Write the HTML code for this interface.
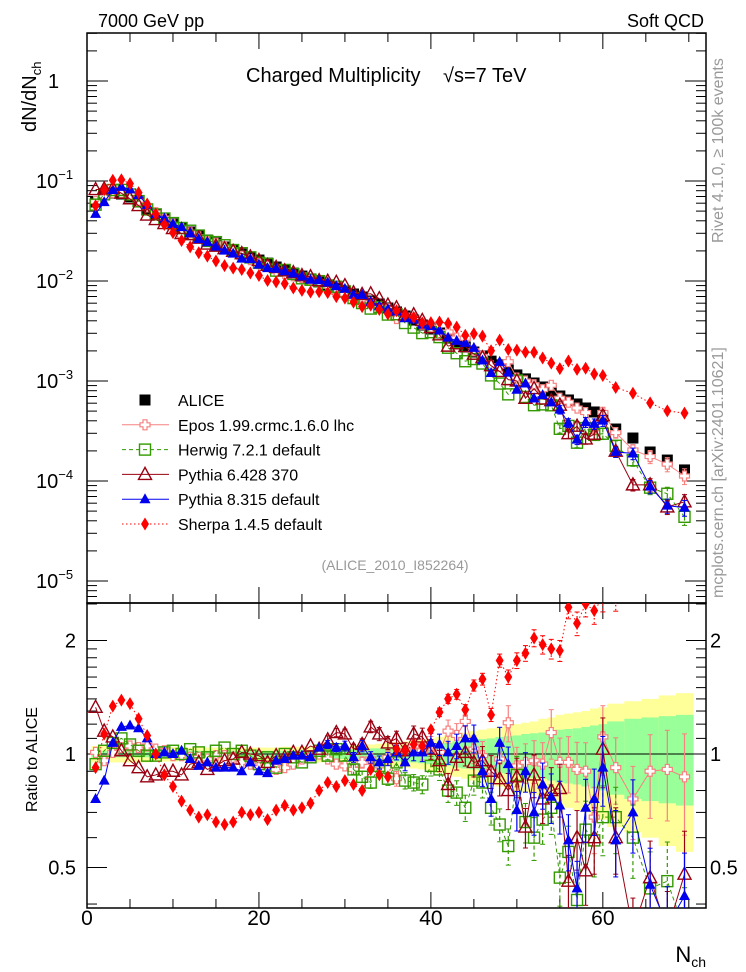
<!DOCTYPE html>
<html><head><meta charset="utf-8"><style>
html,body{margin:0;padding:0;background:#fff}
svg{display:block;font-family:"Liberation Sans",Arial,sans-serif}
</style></head><body>
<svg id="chart" width="746" height="972" viewBox="0 0 746 972" xmlns="http://www.w3.org/2000/svg">
<defs>
<clipPath id="clipMain"><rect x="87" y="33" width="619" height="570"/></clipPath>
<clipPath id="clipRatio"><rect x="87" y="603" width="619" height="305"/></clipPath>
</defs>
<g id="bands" clip-path="url(#clipRatio)"></g>
<g id="axes"></g>
<g id="marksMain" clip-path="url(#clipMain)"></g>
<g id="marksRatio" clip-path="url(#clipRatio)"></g>
<g id="legend"></g>
<text x="98" y="27" font-size="18">7000 GeV pp</text>
<text x="704" y="27" font-size="18" text-anchor="end">Soft QCD</text>
<text x="246" y="82" font-size="20">Charged Multiplicity</text>
<text x="443" y="82" font-size="20">√s=7 TeV</text>
<text x="395" y="570" font-size="14" fill="#999" text-anchor="middle">(ALICE_2010_I852264)</text>
<text transform="translate(36,132) rotate(-90)" font-size="20">dN/dN<tspan font-size="13" dy="5">ch</tspan></text>
<text transform="translate(37,812) rotate(-90)" font-size="16">Ratio to ALICE</text>
<text x="706" y="962" font-size="22" text-anchor="end">N<tspan font-size="14" dy="5">ch</tspan></text>
<text transform="translate(723,243) rotate(-90)" font-size="16" fill="#999">Rivet 4.1.0, ≥ 100k events</text>
<text transform="translate(723,598) rotate(-90)" font-size="16" fill="#999">mcplots.cern.ch [arXiv:2401.10621]</text>
</svg>
<script>
const nch=[1,2,3,4,5,6,7,8,9,10,11,12,13,14,15,16,17,18,19,20,21,22,23,24,25,26,27,28,29,30,31,32,33,34,35,36,37,38,39,40,41,42,43,44,45,46,47,48,49,50,51,52,53,54,55,56,57,58,59,60,61.5,63.5,65.5,67.5,69.5];
const binHalf=[0.5,0.5,0.5,0.5,0.5,0.5,0.5,0.5,0.5,0.5,0.5,0.5,0.5,0.5,0.5,0.5,0.5,0.5,0.5,0.5,0.5,0.5,0.5,0.5,0.5,0.5,0.5,0.5,0.5,0.5,0.5,0.5,0.5,0.5,0.5,0.5,0.5,0.5,0.5,0.5,0.5,0.5,0.5,0.5,0.5,0.5,0.5,0.5,0.5,0.5,0.5,0.5,0.5,0.5,0.5,0.5,0.5,0.5,0.5,0.5,1,1,1,1,1];
const alice=[0.0617,0.0724,0.0759,0.0741,0.0692,0.0617,0.0525,0.0468,0.0417,0.0372,0.0339,0.0309,0.0282,0.0257,0.0240,0.0219,0.0204,0.0186,0.0174,0.0162,0.0151,0.0138,0.0129,0.0120,0.0112,0.0105,0.00977,0.00912,0.00851,0.00794,0.00741,0.00692,0.00631,0.00589,0.00537,0.00490,0.00447,0.00407,0.00363,0.00331,0.00302,0.00269,0.00240,0.00219,0.00195,0.00178,0.00158,0.00145,0.00129,0.00115,0.00105,0.000955,0.000871,0.000794,0.000708,0.000646,0.000589,0.000537,0.000490,0.000437,0.000331,0.000269,0.000195,0.000162,0.000129];
const bandInner=[0.02,0.02,0.02,0.02,0.02,0.02,0.02,0.02,0.02,0.02,0.02,0.02,0.02,0.02,0.02,0.02,0.02,0.02,0.02,0.02,0.02,0.02,0.02,0.02,0.025,0.025,0.025,0.025,0.03,0.03,0.03,0.03,0.035,0.035,0.04,0.045,0.045,0.05,0.055,0.06,0.065,0.07,0.08,0.085,0.09,0.095,0.1,0.11,0.115,0.12,0.13,0.135,0.14,0.15,0.16,0.165,0.17,0.18,0.19,0.2,0.22,0.24,0.25,0.26,0.27];
const bandOuter=[0.05,0.05,0.05,0.05,0.05,0.05,0.05,0.045,0.045,0.045,0.04,0.04,0.04,0.04,0.04,0.04,0.04,0.04,0.04,0.04,0.04,0.04,0.045,0.045,0.045,0.045,0.05,0.05,0.05,0.05,0.055,0.06,0.06,0.065,0.07,0.075,0.08,0.085,0.09,0.1,0.11,0.12,0.13,0.14,0.15,0.16,0.17,0.18,0.19,0.2,0.21,0.22,0.24,0.25,0.27,0.28,0.29,0.3,0.32,0.33,0.36,0.38,0.4,0.43,0.45];
const modelErr=[0.01,0.01,0.01,0.01,0.01,0.01,0.01,0.01,0.01,0.01,0.01,0.01,0.01,0.01,0.01,0.01,0.01,0.01,0.01,0.01,0.015,0.015,0.015,0.015,0.02,0.02,0.02,0.025,0.025,0.03,0.03,0.035,0.035,0.04,0.04,0.045,0.05,0.05,0.055,0.06,0.065,0.07,0.075,0.08,0.085,0.09,0.1,0.1,0.11,0.12,0.12,0.13,0.14,0.15,0.16,0.17,0.18,0.19,0.2,0.21,0.2,0.22,0.25,0.27,0.3];
const ratioEpos=[1.01,0.96,1.01,1.04,1.05,1.04,1.05,1.03,1.02,0.99,0.99,0.98,0.98,0.97,0.99,0.99,0.98,0.95,0.94,0.92,0.93,0.91,0.92,0.94,0.97,0.99,1.0,0.97,0.94,0.93,0.91,0.95,0.97,0.93,0.98,0.86,1.02,1.05,1.02,1.05,1.01,1.15,1.12,1.22,1.03,0.99,0.90,0.97,1.21,0.93,0.95,0.96,0.94,1.14,0.95,0.95,0.91,0.90,0.68,1.11,0.92,0.76,0.90,0.91,0.87];
const ratioHerwig=[0.94,1.02,1.07,1.10,1.06,1.02,0.99,0.99,1.01,1.02,1.0,1.03,1.01,0.98,1.02,1.04,1.0,1.02,0.99,0.94,0.98,0.92,1.0,0.98,0.95,0.98,1.02,0.99,1.03,0.99,0.91,0.87,0.84,0.93,0.86,0.95,0.85,0.84,0.83,0.93,0.91,0.80,0.79,0.72,0.85,0.84,0.72,0.65,0.57,0.88,0.66,0.60,0.67,0.72,0.47,0.55,0.41,0.63,0.59,0.68,0.68,0.60,0.44,0.46,0.34];
const ratioPythia6=[1.33,1.15,1.11,1.02,0.96,0.92,0.87,0.88,0.90,0.90,0.88,0.94,0.95,0.91,0.93,0.96,0.97,1.01,1.0,0.99,0.95,0.99,0.98,1.01,1.01,1.05,1.03,1.09,1.14,1.13,1.03,1.06,1.18,1.13,1.07,1.10,1.02,1.13,1.11,1.03,0.96,0.83,0.98,1.01,0.95,0.96,0.90,0.86,0.80,0.87,0.64,0.88,0.76,0.80,0.81,0.46,0.60,0.49,0.60,1.03,0.60,0.34,0.47,0.34,0.48];
const ratioPythia8=[0.76,0.85,1.07,1.18,1.19,1.17,1.10,1.0,1.01,1.0,1.02,0.97,0.93,0.95,0.92,0.92,0.92,0.90,0.95,0.90,0.89,0.96,0.97,0.99,0.99,0.98,1.04,1.06,1.04,1.05,0.98,1.05,0.98,0.95,0.97,1.01,0.95,1.01,1.01,1.07,1.06,1.01,1.05,1.10,1.10,0.90,0.76,1.07,0.94,0.71,0.90,0.70,0.83,0.77,0.73,0.59,0.44,0.72,0.76,0.92,0.59,0.70,0.45,0.35,0.42];
const ratioSherpa=[0.92,1.13,1.34,1.39,1.36,1.24,1.12,1.0,0.88,0.82,0.75,0.71,0.68,0.69,0.66,0.65,0.66,0.70,0.69,0.70,0.67,0.71,0.73,0.71,0.72,0.74,0.80,0.84,0.82,0.85,0.83,0.80,0.91,0.88,0.87,1.03,1.02,1.06,1.05,1.16,1.29,1.40,1.44,1.31,1.52,1.58,1.27,1.77,1.60,1.77,1.85,2.03,1.95,1.90,1.88,2.45,2.22,2.5,2.4,2.6,2.6,2.8,3.1,3.1,3.7];
const xTicksMajor=[0,20,40,60];
const mainTickLabels=[["1",0],["10","-1"],["10","-2"],["10","-3"],["10","-4"],["10","-5"]];
const ratioTickLabels=[["2",2],["1",1],["0.5",0.5]];

const NS="http://www.w3.org/2000/svg";
const X0=87,X1=706,XMAX=72;
function xS(n){return X0+n*(X1-X0)/XMAX;}
function yM(v){return 81-100*Math.log10(v);}
function yR(r){return 754-113.5*Math.log2(r);}
function el(tag,attrs,parent){const e=document.createElementNS(NS,tag);for(const k in attrs)e.setAttribute(k,attrs[k]);parent.appendChild(e);return e;}
const axes=document.getElementById('axes'),bands=document.getElementById('bands');
const gM=document.getElementById('marksMain'),gR=document.getElementById('marksRatio'),leg=document.getElementById('legend');

for(let i=0;i<nch.length;i++){
  const xa=xS(nch[i]-binHalf[i]),xb=xS(nch[i]+binHalf[i]);
  const o=el('rect',{x:xa,y:yR(1+bandOuter[i]),width:xb-xa+0.5,height:yR(1-bandOuter[i])-yR(1+bandOuter[i]),fill:'#ffff99'},bands);
  
  
  const g=el('rect',{x:xa,y:yR(1+bandInner[i]),width:xb-xa+0.5,height:yR(1-bandInner[i])-yR(1+bandInner[i]),fill:'#99ff99'},bands);
  
  
}
el('line',{x1:X0,x2:X1,y1:yR(1),y2:yR(1),stroke:'#000','stroke-width':1},bands);

el('rect',{x:X0,y:33,width:X1-X0,height:570,fill:'none',stroke:'#000','stroke-width':1.5},axes);
el('rect',{x:X0,y:603,width:X1-X0,height:305,fill:'none',stroke:'#000','stroke-width':1.5},axes);
for(let n=0;n<=XMAX;n+=5){
  const maj=n%20===0,L=maj?16:9,x=xS(n);
  el('line',{x1:x,x2:x,y1:33,y2:33+L,stroke:'#000'},axes);
  el('line',{x1:x,x2:x,y1:603,y2:603-L,stroke:'#000'},axes);
  el('line',{x1:x,x2:x,y1:603,y2:603+L,stroke:'#000'},axes);
  el('line',{x1:x,x2:x,y1:908,y2:908-L,stroke:'#000'},axes);
}
xTicksMajor.forEach(n=>{
  const t=el('text',{x:xS(n),y:925,'font-size':21,'text-anchor':'middle'},axes);t.textContent=n;
  
  
});
for(let d=-6;d<=0;d++){for(let m=1;m<10;m++){
  const v=m*Math.pow(10,d),y=yM(v); if(y<33||y>603)continue;
  const L=m===1?21:10;
  el('line',{x1:X0,x2:X0+L,y1:y,y2:y,stroke:'#000'},axes);
  el('line',{x1:X1,x2:X1-L,y1:y,y2:y,stroke:'#000'},axes);
}}
mainTickLabels.forEach(([b,e])=>{
  const v=e===0?1:Math.pow(10,+e),y=yM(v);
  const t=el('text',{x:e===0?48:36,y:y+7,'font-size':20},axes);
  
  
  if(e===0)t.textContent=b;else{t.textContent=b;const s=el('tspan',{dy:-9,'font-size':13},t);s.textContent='−'+String(e).slice(1);}
});
[0.4,0.5,0.6,0.7,0.8,0.9,1,1.1,1.2,1.3,1.4,1.5,1.6,1.7,1.8,1.9,2,2.5].forEach(r=>{
  const y=yR(r);if(y<603||y>908)return;const L=(r===0.5||r===1||r===2)?20:10;
  el('line',{x1:X0,x2:X0+L,y1:y,y2:y,stroke:'#000'},axes);
  el('line',{x1:X1,x2:X1-L,y1:y,y2:y,stroke:'#000'},axes);
});
ratioTickLabels.forEach(([s,r])=>{
  const y=yR(r)+7;
  const a=el('text',{x:76,y:y,'font-size':20,'text-anchor':'end'},axes);a.textContent=s;
  
  
  const b=el('text',{x:710,y:y,'font-size':20},axes);b.textContent=s;
  
  
});

function marker(g,shape,x,y,c){
  let m;
  if(shape==='sqf')m=el('rect',{x:x-5.5,y:y-5.5,width:11,height:11,fill:c},g);
  else if(shape==='sqo')m=el('rect',{x:x-5.5,y:y-5.5,width:11,height:11,fill:'none',stroke:c,'stroke-width':1.4},g);
  else if(shape==='tro')m=el('polygon',{points:`${x},${y-7} ${x-6.5},${y+5} ${x+6.5},${y+5}`,fill:'none',stroke:c,'stroke-width':1.4},g);
  else if(shape==='trf')m=el('polygon',{points:`${x},${y-6} ${x-5.5},${y+4} ${x+5.5},${y+4}`,fill:c},g);
  else if(shape==='dia')m=el('polygon',{points:`${x},${y-6.5} ${x-4},${y} ${x},${y+6.5} ${x+4},${y}`,fill:c},g);
  else if(shape==='cro')m=el('polygon',{points:`${x-2},${y-5} ${x+2},${y-5} ${x+2},${y-2} ${x+5},${y-2} ${x+5},${y+2} ${x+2},${y+2} ${x+2},${y+5} ${x-2},${y+5} ${x-2},${y+2} ${x-5},${y+2} ${x-5},${y-2} ${x-2},${y-2}`,fill:'#fff',stroke:c,'stroke-width':1.2},g);
  return m;
}
const series=[
 {key:'epos',ratio:ratioEpos,color:'#f78080',shape:'cro',dash:'',label:'Epos 1.99.crmc.1.6.0 lhc',ef:1},
 {key:'herwig',ratio:ratioHerwig,color:'#339900',shape:'sqo',dash:'4,3',label:'Herwig 7.2.1 default',ef:1},
 {key:'pythia6',ratio:ratioPythia6,color:'#990011',shape:'tro',dash:'',label:'Pythia 6.428 370',ef:1},
 {key:'pythia8',ratio:ratioPythia8,color:'#0000ee',shape:'trf',dash:'',label:'Pythia 8.315 default',ef:1},
 {key:'sherpa',ratio:ratioSherpa,color:'#ff0000',shape:'dia',dash:'1.5,2.5',label:'Sherpa 1.4.5 default',ef:0.4}
];
for(let i=0;i<nch.length;i++){
  const m=marker(gM,'sqf',xS(nch[i]),yM(alice[i]),'#000');
  
  
}
series.forEach(s=>{
  const ptsM=[],ptsR=[];
  for(let i=0;i<nch.length;i++){
    const x=xS(nch[i]),v=alice[i]*s.ratio[i];ptsM.push(x+','+yM(v));ptsR.push(x+','+yR(s.ratio[i]));
  }
  [[gM,ptsM],[gR,ptsR]].forEach(([g,p])=>{
    const l=el('polyline',{points:p.join(' '),fill:'none',stroke:s.color,'stroke-width':1,'stroke-dasharray':s.dash},g);
    
    
  });
  for(let i=0;i<nch.length;i++){
    const x=xS(nch[i]),v=alice[i]*s.ratio[i],e=modelErr[i]*s.ef,em=e*0.6;
    [[gM,yM(v*(1+em)),yM(v*(1-em)),yM(v)],[gR,yR(s.ratio[i]*(1+e)),yR(s.ratio[i]*(1-e)),yR(s.ratio[i])]].forEach(([g,ya,yb,y])=>{
      if(yb-ya>8){el('line',{x1:x,x2:x,y1:ya,y2:yb,stroke:s.color,'stroke-width':1.2,'stroke-dasharray':s.dash},g);
        el('line',{x1:x-2.5,x2:x+2.5,y1:ya,y2:ya,stroke:s.color},g);el('line',{x1:x-2.5,x2:x+2.5,y1:yb,y2:yb,stroke:s.color},g);}
      const m=marker(g,s.shape,x,y,s.color);
      
      
    });
  }
});
const rows=[{label:'ALICE',shape:'sqf',color:'#000',line:false,dash:''}].concat(series.map(s=>({label:s.label,shape:s.shape,color:s.color,line:true,dash:s.dash})));
rows.forEach((r,i)=>{
  const y=400+i*24.8;
  if(r.line){el('line',{x1:122,x2:169,y1:y,y2:y,stroke:r.color,'stroke-dasharray':r.dash},leg);}
  marker(leg,r.shape,145,y,r.color);
  const t=el('text',{x:178,y:y+6,'font-size':16},leg);t.textContent=r.label;
  
  
});
</script>
</body></html>
